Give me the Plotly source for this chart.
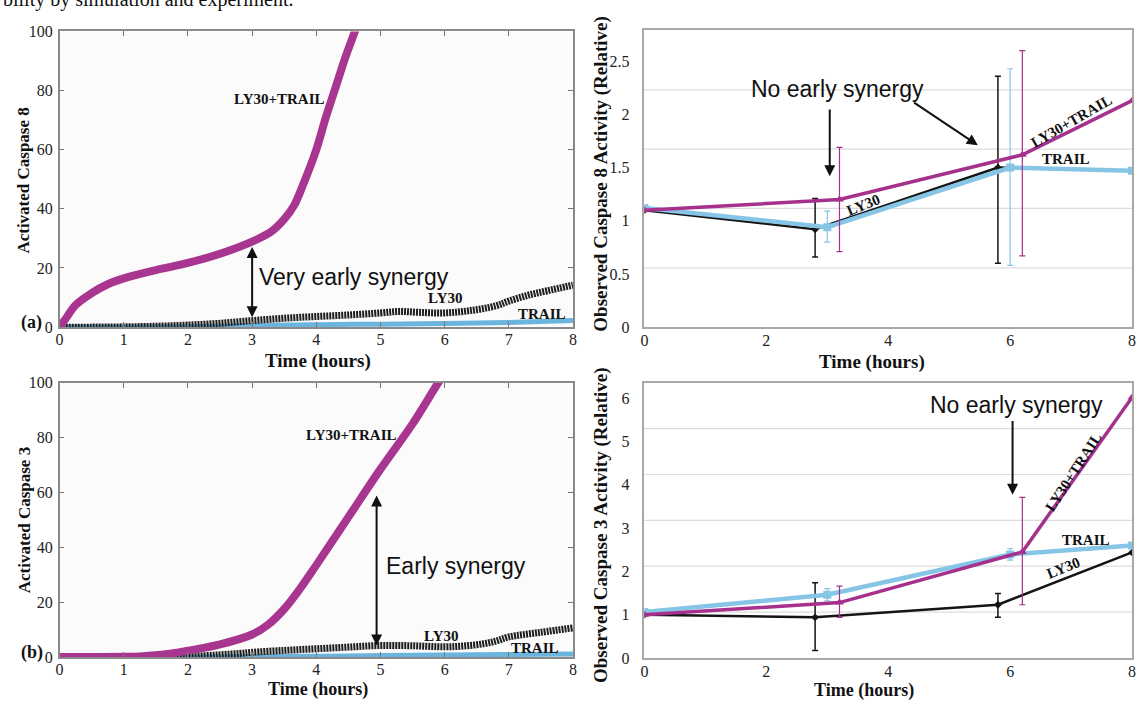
import plotly.graph_objects as go

W, H = 1138, 706

# ---------------- simulated data (left panels) ----------------
t_a_combo = [0, 0.1, 0.25, 0.5, 0.75, 1.0, 1.5, 2.0, 2.5, 3.0, 3.3, 3.5, 3.65, 3.8, 4.0, 4.15, 4.3, 4.45, 4.6, 4.75]
a_combo = [0, 3, 7.5, 11.5, 14.5, 16.5, 19.3, 21.7, 24.8, 28.9, 32.3, 36.5, 41, 48.5, 60, 71, 81, 91, 100, 110]
t_a_ly = [0, 0.5, 1, 1.5, 2, 2.5, 3, 3.5, 4, 4.5, 5, 5.3, 5.6, 6.0, 6.4, 6.8, 7.0, 7.3, 7.6, 8]
a_ly = [0, 0, 0.1, 0.3, 0.7, 1.3, 2.2, 3.0, 3.6, 4.1, 4.8, 5.3, 5.0, 4.8, 5.6, 7.2, 8.8, 10.8, 12.3, 14.2]
t_a_trail = [0, 1, 2, 2.5, 3, 4, 5, 6, 7, 8]
a_trail = [0, 0, 0.1, 0.3, 0.5, 0.8, 1.0, 1.2, 1.6, 2.2]

t_b_combo = [0, 0.5, 1, 1.25, 1.5, 1.75, 2, 2.5, 3, 3.25, 3.5, 3.75, 4, 4.5, 5, 5.5, 5.9, 6.1]
b_combo = [0, 0, 0.05, 0.2, 0.6, 1.3, 2.3, 4.6, 8.2, 11.8, 17.5, 25, 33.5, 51, 68.5, 85, 100, 107]
t_b_ly = [0, 1, 2, 2.5, 2.8, 3, 3.5, 4, 4.5, 5, 5.5, 6, 6.3, 6.6, 6.8, 7, 7.5, 8]
b_ly = [0, 0, 0.2, 0.8, 1.3, 1.7, 2.4, 3.0, 3.6, 4.2, 4.1, 3.7, 4.0, 4.8, 5.8, 7.3, 9.0, 10.6]
t_b_trail = [0, 2, 3, 4, 5, 6, 7, 8]
b_trail = [0, 0, 0.1, 0.3, 0.5, 0.7, 0.9, 1.1]

# ---------------- experimental data (right panels) ----------------
t_exp_trail = [0, 3.0, 6.0, 8]
t_exp_ly = [0, 2.8, 5.8, 8]
t_exp_combo = [0, 3.2, 6.2, 8]

c8_trail = [1.12, 0.94, 1.50, 1.47]
c8_ly = [1.10, 0.92, 1.50, 1.47]
c8_combo = [1.10, 1.20, 1.62, 2.13]
c8_trail_err_up = [0.15, 0.93]
c8_trail_err_dn = [0.14, 0.92]
c8_ly_err_up = [0.29, 0.86]
c8_ly_err_dn = [0.26, 0.90]
c8_combo_err_up = [0.49, 0.98]
c8_combo_err_dn = [0.49, 0.95]

c3_trail = [1.06, 1.46, 2.39, 2.60]
c3_ly = [1.0, 0.94, 1.23, 2.44]
c3_combo = [1.0, 1.28, 2.45, 6.02]
c3_trail_err_up = [0.14, 0.14]
c3_trail_err_dn = [0.14, 0.13]
c3_ly_err_up = [0.80, 0.26]
c3_ly_err_dn = [0.77, 0.29]
c3_combo_err_up = [0.38, 1.26]
c3_combo_err_dn = [0.34, 1.22]

x_ticks_left = [0, 1, 2, 3, 4, 5, 6, 7, 8]
y_ticks_left = [0, 20, 40, 60, 80, 100]
x_ticks_right = [0, 2, 4, 6, 8]
y_ticks_c8 = [0, 0.5, 1, 1.5, 2, 2.5]
y_ticks_c3 = [0, 1, 2, 3, 4, 5, 6]

MAG = "#a5318c"
MAG_SIM = "#a8358f"
BLUE = "#86c5e6"
BLUE_SIM = "#6ab4de"
BLACK = "#151515"
SERIF = "Liberation Serif"
SANS = "Liberation Sans"

fig = go.Figure()

# ---------- left panels ----------
def sim(xa, ya, t_combo, combo, t_ly, ly, t_tr, tr):
    fig.add_trace(go.Scatter(x=t_tr, y=tr, mode="lines", line=dict(color=BLUE_SIM, width=5, shape="spline"),
                             xaxis=xa, yaxis=ya, showlegend=False, hoverinfo="skip"))
    fig.add_trace(go.Scatter(x=t_ly, y=ly, mode="lines", line=dict(color="#1e1e1e", width=7, shape="spline", dash="2px,1px"),
                             xaxis=xa, yaxis=ya, showlegend=False, hoverinfo="skip"))
    fig.add_trace(go.Scatter(x=t_combo, y=combo, mode="lines", line=dict(color=MAG_SIM, width=8, shape="spline"),
                             xaxis=xa, yaxis=ya, showlegend=False, hoverinfo="skip"))

sim("x", "y", t_a_combo, a_combo, t_a_ly, a_ly, t_a_trail, a_trail)
sim("x3", "y3", t_b_combo, b_combo, t_b_ly, b_ly, t_b_trail, b_trail)

# ---------- right panels ----------
def exp(xa, ya, trail, ly, combo, tr_up, tr_dn, ly_up, ly_dn, co_up, co_dn):
    specs = [
        (t_exp_ly, ly, ly_up, ly_dn, BLACK, 2.5, "diamond", 6),
        (t_exp_trail, trail, tr_up, tr_dn, BLUE, 4.5, "square", 8),
        (t_exp_combo, combo, co_up, co_dn, MAG, 3.5, "triangle-up", 8),
    ]
    for tx, yy, up, dn, col, lw, sym, ms in specs:
        fig.add_trace(go.Scatter(x=tx, y=yy, mode="lines+markers",
                                 line=dict(color=col, width=lw),
                                 marker=dict(color=col, symbol=sym, size=ms),
                                 xaxis=xa, yaxis=ya, showlegend=False, hoverinfo="skip"))
        fig.add_trace(go.Scatter(x=tx[1:3], y=yy[1:3], mode="markers",
                                 marker=dict(color=col, size=1, opacity=0),
                                 error_y=dict(type="data", symmetric=False, array=up, arrayminus=dn,
                                              color=col, thickness=1.5 if col == BLACK else 1.2, width=3),
                                 xaxis=xa, yaxis=ya, showlegend=False, hoverinfo="skip"))

exp("x2", "y2", c8_trail, c8_ly, c8_combo, c8_trail_err_up, c8_trail_err_dn,
    c8_ly_err_up, c8_ly_err_dn, c8_combo_err_up, c8_combo_err_dn)
exp("x4", "y4", c3_trail, c3_ly, c3_combo, c3_trail_err_up, c3_trail_err_dn,
    c3_ly_err_up, c3_ly_err_dn, c3_combo_err_up, c3_combo_err_dn)

# ---------- axes ----------
def px_x(a, b):
    return [a / W, b / W]

def px_y(top, bot):
    return [1 - bot / H, 1 - top / H]

tick_font = dict(family=SERIF, size=16, color="#222")
left_x = dict(range=[0, 8], tickvals=x_ticks_left, ticks="inside", ticklen=5, tickcolor="#777",
              showline=True, linecolor="#8a8a8a", linewidth=1.5, mirror="ticks", showgrid=False,
              zeroline=False, tickfont=tick_font, ticklabelstandoff=-3)
left_y = dict(range=[0, 100], tickvals=y_ticks_left, ticks="inside", ticklen=5, tickcolor="#777",
              showline=True, linecolor="#8a8a8a", linewidth=1.5, mirror="ticks", showgrid=False,
              zeroline=False, tickfont=tick_font, ticklabelstandoff=2)
right_x = dict(range=[0, 8], tickvals=x_ticks_right, ticks="", showline=True, linecolor="#a8a8a8",
               linewidth=1.5, mirror=True, showgrid=False, zeroline=False, tickfont=tick_font,
               ticklabelstandoff=-2)
right_y = dict(ticks="", showline=True, linecolor="#a8a8a8", linewidth=1.5, mirror=True,
               showgrid=False, zeroline=False, tickfont=tick_font, ticklabelstandoff=10)

fig.update_layout(
    width=W, height=H, margin=dict(l=0, r=0, t=0, b=0),
    paper_bgcolor="white", plot_bgcolor="#fbfbfb",
    xaxis=dict(domain=px_x(56, 573), anchor="y", **left_x),
    yaxis=dict(domain=px_y(24, 327), anchor="x", **left_y),
    xaxis3=dict(domain=px_x(56, 573), anchor="y3", **left_x),
    yaxis3=dict(domain=px_y(384, 665), anchor="x3", **left_y),
    xaxis2=dict(domain=px_x(645, 1136), anchor="y2", **right_x),
    yaxis2=dict(domain=px_y(23, 327), anchor="x2", range=[0, 2.79], tickvals=y_ticks_c8,
                ticktext=["0", "0.5", "1", "1.5", "2", "2.5"], **right_y),
    xaxis4=dict(domain=px_x(645, 1136), anchor="y4", **right_x),
    yaxis4=dict(domain=px_y(384, 666), anchor="x4", range=[0, 6.36], tickvals=y_ticks_c3, **right_y),
)

# light gridlines of right panels (drawn at their own spacing)
shapes = []
for ya, top, n in [("y2", 2.79, 5), ("y4", 6.36, 6)]:
    xa = "x2" if ya == "y2" else "x4"
    for i in range(1, n):
        v = top * i / n
        shapes.append(dict(type="line", xref=xa + " domain", yref=ya, x0=0, x1=1, y0=v, y1=v,
                           line=dict(color="#dcdcdc", width=1.2), layer="below"))
# white backgrounds for right panels
for xa, ya in [("x2", "y2"), ("x4", "y4")]:
    shapes.insert(0, dict(type="rect", xref=xa + " domain", yref=ya + " domain", x0=0, x1=1, y0=0, y1=1,
                          fillcolor="white", line=dict(width=0), layer="below"))
fig.update_layout(shapes=shapes)

ann = []
lbl = dict(family=SERIF, size=15, color="#111")
big = dict(family=SANS, size=23, color="#111")

def txt(xa, ya, x, y, s, font, angle=0, **kw):
    d = dict(xref=xa, yref=ya, x=x, y=y, text=s, showarrow=False, font=font, textangle=angle)
    d.update(kw)
    ann.append(d)

def arrow(xa, ya, x, y, ax, ay, both=False):
    ann.append(dict(xref=xa, yref=ya, axref=xa, ayref=ya, x=x, y=y, ax=ax, ay=ay, text="",
                    showarrow=True, arrowhead=2, arrowsize=1.1, arrowwidth=2, arrowcolor="#111",
                    arrowside="end+start" if both else "end", startarrowhead=2, startarrowsize=1.1))

# panel (a)
txt("x", "y", 3.43, 77, "<b>LY30+TRAIL</b>", lbl)
txt("x", "y", 3.08, 17.1, "Very early synergy", big, xanchor="left")
arrow("x", "y", 3.0, 3.3, 3.0, 27.6, both=True)
txt("x", "y", 6.0, 9.9, "<b>LY30</b>", lbl)
txt("x", "y", 7.51, 4.4, "<b>TRAIL</b>", lbl)

# panel (b)
txt("x3", "y3", 4.55, 81.1, "<b>LY30+TRAIL</b>", lbl)
txt("x3", "y3", 5.05, 33.3, "Early synergy", big, xanchor="left")
arrow("x3", "y3", 4.94, 4.2, 4.94, 59.4, both=True)
txt("x3", "y3", 5.95, 7.5, "<b>LY30</b>", lbl)
txt("x3", "y3", 7.41, 3.2, "<b>TRAIL</b>", lbl)

# top right
txt("x2", "y2", 3.17, 2.235, "No early synergy", big)
arrow("x2", "y2", 3.04, 1.42, 3.04, 2.06)
arrow("x2", "y2", 5.47, 1.71, 4.4, 2.12)
txt("x2", "y2", 3.59, 1.15, "<b>LY30</b>", lbl, angle=-22)
txt("x2", "y2", 7.01, 1.94, "<b>LY30+TRAIL</b>", lbl, angle=-30)
txt("x2", "y2", 6.92, 1.58, "<b>TRAIL</b>", lbl)

# bottom right
txt("x4", "y4", 6.10, 5.85, "No early synergy", big)
arrow("x4", "y4", 6.04, 3.77, 6.04, 5.51)
txt("x4", "y4", 7.04, 4.30, "<b>LY30+TRAIL</b>", lbl, angle=-57)
txt("x4", "y4", 7.25, 2.73, "<b>TRAIL</b>", lbl)
txt("x4", "y4", 6.87, 2.08, "<b>LY30</b>", lbl, angle=-22)

# axis titles and panel letters (paper coordinates)
title_font = dict(family=SERIF, size=17, color="#111")
xtitle_font = dict(family=SERIF, size=19, color="#111")
xtitle_font_b = dict(family=SERIF, size=18, color="#111")
rtitle_font = dict(family=SERIF, size=19, color="#111")
def ptxt(px, py, s, font, angle=0):
    ann.append(dict(xref="paper", yref="paper", x=px / W, y=1 - py / H, text=s, showarrow=False,
                    font=font, textangle=angle, xanchor="center", yanchor="middle"))

ptxt(20, 177, "<b>Activated Caspase 8</b>", title_font, -90)
ptxt(20, 525, "<b>Activated Caspase 3</b>", title_font, -90)
ptxt(601, 170, "<b>Observed Caspase 8 Activity (Relative)</b>", rtitle_font, -90)
ptxt(601, 530, "<b>Observed Caspase 3 Activity (Relative)</b>", rtitle_font, -90)
ptxt(316, 362, "<b>Time (hours)</b>", xtitle_font)
ptxt(316, 698, "<b>Time (hours)</b>", xtitle_font_b)
ptxt(874, 363, "<b>Time (hours)</b>", xtitle_font)
ptxt(866, 699, "<b>Time (hours)</b>", xtitle_font_b)
ptxt(28, 322, "<b>(a)</b>", dict(family=SERIF, size=18, color="#111"))
ptxt(28, 660, "<b>(b)</b>", dict(family=SERIF, size=18, color="#111"))

# clipped caption line at the very top
ann.append(dict(xref="paper", yref="paper", x=0, y=1 - 5 / H, xanchor="left", yanchor="bottom",
                xshift=-3, text="bility by simulation and experiment.", showarrow=False,
                font=dict(family=SERIF, size=20, color="#111")))

fig.update_layout(annotations=ann)
fig.write_html("out.html")
